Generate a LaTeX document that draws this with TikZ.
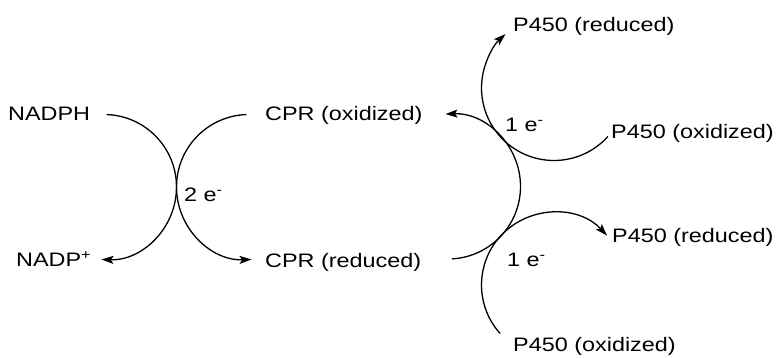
\documentclass[tikz,border=0pt]{standalone}
\usepackage{fontspec}
\setmainfont[FakeStretch=1.2]{Liberation Sans}
\usetikzlibrary{arrows.meta}
\begin{document}
\begin{tikzpicture}[x=1pt,y=1pt,
  lbl/.style={inner sep=0pt,anchor=base west,font=\fontsize{19.5}{22}\selectfont},
  flow/.style={line width=1.3pt,-{Stealth[length=12pt,width=8pt,inset=2.5pt]}},
]
\useasboundingbox (0,0) rectangle (781,358);
% species labels
\node[lbl] (nadph) at (8,237.5) {NADPH};
\node[lbl] (nadp) at (16,91) {NADP\textsuperscript{+}};
\node[lbl] (cprox) at (265,237.5) {CPR (oxidized)};
\node[lbl] (cprred) at (265,90) {CPR (reduced)};
\node[lbl] (p1red) at (513,326) {P450 (reduced)};
\node[lbl] (p1ox) at (611,219) {P450 (oxidized)};
\node[lbl] (p2red) at (612,115) {P450 (reduced)};
\node[lbl] (p2ox) at (513,6) {P450 (oxidized)};
% electron labels
\node[lbl] (e2) at (184,156) {2 e\textsuperscript{-}};
\node[lbl] (e1a) at (505,226) {1 e\textsuperscript{-}};
\node[lbl] (e1b) at (507,91) {1 e\textsuperscript{-}};
% arc centres
\def\rad{72.5}
\coordinate (cL) at (104,171);
\coordinate (cR) at (249,171);
\coordinate (cB) at (448,171.5);
\coordinate (cT) at (554,270);
\coordinate (cD) at (554,73);
% arc start points
\coordinate (sL) at ([shift={(88:\rad)}]cL);
\coordinate (sR) at ([shift={(92:\rad)}]cR);
\coordinate (sB) at ([shift={(-87:\rad)}]cB);
\coordinate (sT) at ([shift={(-42:\rad)}]cT);
\coordinate (sD) at ([shift={(222:\rad)}]cD);
% NADPH -> NADP+ and CPR (oxidized) -> CPR (reduced)
\draw[flow] (sL) arc[start angle=88,end angle=-92,radius=\rad];
\draw[flow] (sR) arc[start angle=92,end angle=272,radius=\rad];
% CPR (reduced) -> CPR (oxidized)
\draw[flow] (sB) arc[start angle=-87,end angle=92,radius=\rad];
% P450 reductions
\draw[flow] (sT) arc[start angle=-42,end angle=-228,radius=\rad];
\draw[flow] (sD) arc[start angle=222,end angle=43,radius=\rad];
\end{tikzpicture}
\end{document}
